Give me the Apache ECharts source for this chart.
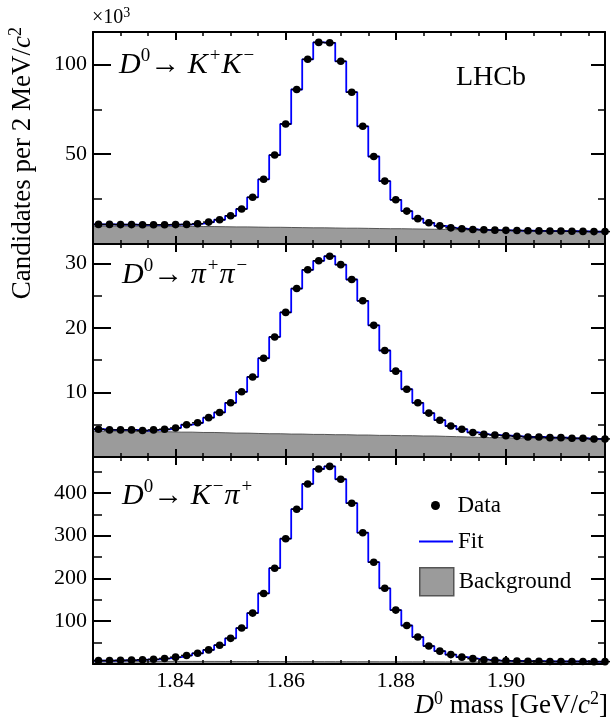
<!DOCTYPE html>
<html><head><meta charset="utf-8">
<script src="https://cdn.jsdelivr.net/npm/echarts@6.0.0/dist/echarts.min.js"></script>
<style>html,body{margin:0;padding:0;background:#fff;}#c{width:610px;height:720px;}</style>
</head><body><div id="c"></div>
<script>
// ---- binning (D0 mass, GeV/c^2), 2 MeV bins ----
const massCenters = [
  1.826,1.828,1.830,1.832,1.834,1.836,1.838,1.840,1.842,1.844,
  1.846,1.848,1.850,1.852,1.854,1.856,1.858,1.860,1.862,1.864,
  1.866,1.868,1.870,1.872,1.874,1.876,1.878,1.880,1.882,1.884,
  1.886,1.888,1.890,1.892,1.894,1.896,1.898,1.900,1.902,1.904,
  1.906,1.908,1.910,1.912,1.914,1.916,1.918];
const binHalfWidth = 0.001;
const xTickLabels = [1.84, 1.86, 1.88, 1.90];

// ---- D0 -> K+K- (x10^3 candidates) ----
const dataKK = [
  10.9,10.9,10.8,10.8,10.7,10.7,10.7,10.8,10.9,11.3,
  12.2,13.5,15.7,19.5,26.0,36.0,49.5,66.8,86.0,102.8,
  112.2,112.0,101.7,84.5,65.5,48.7,35.0,24.6,18.3,14.1,
  11.8,10.1,9.0,8.5,8.1,7.9,7.7,7.6,7.5,7.4,
  7.3,7.2,7.2,7.1,7.0,6.9,6.9];
// background read at bin edges
const bgKK = [
  10.0,10.0,10.0,10.0,9.9,9.9,9.9,9.8,9.8,9.8,
  9.7,9.7,9.6,9.5,9.5,9.4,9.3,9.3,9.2,9.1,
  9.0,9.0,8.9,8.8,8.8,8.7,8.6,8.5,8.5,8.4,
  8.3,8.2,8.1,8.0,7.9,7.8,7.7,7.6,7.5,7.4,
  7.3,7.2,7.1,7.0,6.9,6.9,6.8,6.7];
const yLabelsKK = [50, 100];

// ---- D0 -> pi+pi- (x10^3 candidates) ----
const dataPiPi = [
  4.3,4.2,4.2,4.2,4.1,4.2,4.3,4.5,5.0,5.3,
  6.1,6.9,8.4,10.1,12.4,15.3,18.6,22.4,26.1,29.0,
  30.4,31.1,29.8,27.5,24.2,20.4,16.5,13.3,10.5,8.4,
  6.8,5.7,4.8,4.3,3.8,3.5,3.4,3.3,3.2,3.1,
  3.1,3.0,3.0,2.9,2.9,2.8,2.8];
const bgPiPi = [
  4.0,4.0,4.0,4.0,3.95,3.95,3.9,3.9,3.85,3.85,
  3.8,3.8,3.75,3.7,3.7,3.65,3.6,3.6,3.55,3.55,
  3.5,3.5,3.45,3.45,3.4,3.4,3.35,3.35,3.3,3.3,
  3.25,3.25,3.2,3.15,3.1,3.05,3.0,3.0,2.95,2.9,
  2.9,2.85,2.85,2.8,2.8,2.75,2.75,2.7];
const yLabelsPiPi = [10, 20, 30];

// ---- D0 -> K-pi+ (x10^3 candidates) ----
const dataKPi = [
  8,8,8.5,9,10,11,13,16,20,25,
  33,44,60,84,119,165,224,293,362,421,
  456,462,432,376,307,238,177,126,90,63,
  42,30,22,16,12.5,10,8.5,7.5,7,6.5,
  6.5,6,6,6,6,5.5,5.5];
const bgKPi = [
  6.5,6.5,6.4,6.4,6.3,6.3,6.2,6.2,6.1,6.1,
  6.0,6.0,5.9,5.9,5.8,5.8,5.7,5.7,5.6,5.6,
  5.5,5.5,5.4,5.4,5.3,5.3,5.2,5.2,5.1,5.1,
  5.0,5.0,4.9,4.9,4.8,4.8,4.7,4.7,4.6,4.6,
  4.5,4.5,4.4,4.3,4.3,4.2,4.1,4.0];
const yLabelsKPi = [100, 200, 300, 400];

// Fit histograms: indistinguishable from the data at the resolution of the picture
const fitKK = dataKK.slice();
const fitPiPi = dataPiPi.slice();
const fitKPi = dataKPi.slice();

// ---------------- build chart ----------------
const FONT = 'Liberation Serif';
const xMin = 1.825, xMax = 1.918;
const massEdges = massCenters.map(c => +(c - binHalfWidth).toFixed(4))
  .concat([+(massCenters[massCenters.length - 1] + binHalfWidth).toFixed(4)]);

const panels = [
  {data: dataKK, fit: fitKK, bg: bgKK, labels: yLabelsKK, yMax: 118, minor: 25, major: 50, top: 32, height: 212},
  {data: dataPiPi, fit: fitPiPi, bg: bgPiPi, labels: yLabelsPiPi, yMax: 33, minor: 5, major: 10, top: 244, height: 213},
  {data: dataKPi, fit: fitKPi, bg: bgKPi, labels: yLabelsKPi, yMax: 484, minor: 50, major: 100, top: 457, height: 207}
];

const grids = [], xAxes = [], yAxes = [], series = [];
const black = '#000';
panels.forEach((p, i) => {
  for (let layer = 0; layer < 2; layer++) {
    const g = grids.length;
    const major = layer === 1;
    grids.push({left: 93, width: 512, top: p.top, height: p.height, show: false, containLabel: false});
    const xBase = {
      gridIndex: g, type: 'value', min: xMin, max: xMax, z: 5,
      splitLine: {show: false},
      axisLine: {show: !major, onZero: false, lineStyle: {color: black, width: 2}}
    };
    const xTick = major
      ? {show: true, inside: true, length: 8, customValues: xTickLabels, lineStyle: {color: black, width: 2}}
      : {show: true, inside: true, length: 4, lineStyle: {color: black, width: 1.5}};
    const xb = Object.assign({}, xBase, {position: 'bottom', axisTick: xTick,
      axisLabel: (major && i === 2)
        ? {show: true, customValues: xTickLabels, formatter: v => (+v).toFixed(2), margin: 6,
           fontFamily: FONT, fontSize: 22, color: black}
        : {show: false}});
    const xt = Object.assign({}, xBase, {position: 'top', axisTick: xTick, axisLabel: {show: false}});
    if (!major) { xb.interval = 0.005; xt.interval = 0.005; }
    xAxes.push(xb, xt);

    const yBase = {
      gridIndex: g, type: 'value', min: 0, max: p.yMax, z: 5,
      interval: major ? p.major : p.minor,
      splitLine: {show: false},
      axisLine: {show: !major, onZero: false, lineStyle: {color: black, width: 2}}
    };
    yAxes.push(Object.assign({}, yBase, {position: 'left',
      axisTick: {show: true, inside: true, length: major ? 18 : 9, lineStyle: {color: black, width: major ? 2 : 1.5}},
      axisLabel: major
        ? {show: true, margin: 6, fontFamily: FONT, fontSize: 22, color: black,
           formatter: v => p.labels.indexOf(+v) >= 0 ? String(v) : ''}
        : {show: false}}));
    yAxes.push(Object.assign({}, yBase, {position: 'right',
      axisTick: {show: true, inside: true, length: major ? 14 : 7, lineStyle: {color: black, width: major ? 2 : 1.5}},
      axisLabel: {show: false}}));
  }
  const ax = 4 * i;
  series.push({
    name: 'Background', type: 'line', xAxisIndex: ax, yAxisIndex: ax, z: 1,
    data: massEdges.map((m, j) => [m, p.bg[j]]),
    symbol: 'none', smooth: false,
    lineStyle: {color: '#555', width: 1},
    itemStyle: {color: '#9b9b9b'},
    areaStyle: {color: '#9b9b9b', opacity: 1},
    silent: true, animation: false
  });
  const fitPts = massCenters.map((c, j) => [c - binHalfWidth, p.fit[j]]);
  fitPts.push([massCenters[massCenters.length - 1] + binHalfWidth, p.fit[p.fit.length - 1]]);
  series.push({
    name: 'Fit', type: 'line', step: 'end', xAxisIndex: ax, yAxisIndex: ax, z: 3,
    data: fitPts, symbol: 'none',
    lineStyle: {color: '#0000ff', width: 1.8},
    itemStyle: {color: '#0000ff'},
    silent: true, animation: false
  });
  series.push({
    name: 'Data', type: 'custom', xAxisIndex: ax, yAxisIndex: ax, z: 4,
    data: massCenters.map((c, j) => [c, p.data[j]]),
    encode: {x: 0, y: 1},
    itemStyle: {color: black},
    clip: false, silent: true, animation: false,
    renderItem: (params, api) => {
      const x = api.value(0), y = api.value(1);
      const a = api.coord([x - binHalfWidth, y]);
      const b = api.coord([x + binHalfWidth, y]);
      const c = api.coord([x, y]);
      return {type: 'group', children: [
        {type: 'line', shape: {x1: a[0], y1: a[1], x2: b[0], y2: b[1]}, style: {stroke: black, lineWidth: 1.5}},
        {type: 'circle', shape: {cx: c[0], cy: c[1], r: 3.8}, style: {fill: black}}
      ]};
    }
  });
});

function supRich(base, sup) {
  return {
    n: {fontFamily: FONT, fontSize: base, fill: black, verticalAlign: 'middle', lineHeight: base * 1.2},
    i: {fontFamily: FONT, fontSize: base, fontStyle: 'italic', fill: black, verticalAlign: 'middle', lineHeight: base * 1.2},
    s: {fontFamily: FONT, fontSize: sup, fill: black, verticalAlign: 'top', lineHeight: sup},
    p: {fontFamily: FONT, fontSize: sup, fill: black, verticalAlign: 'top', lineHeight: sup, padding: [0, 1, 0, 2]}
  };
}
function txt(x, y, text, base, sup, align, rotation) {
  return {
    type: 'text', x: x, y: y, rotation: rotation || 0, z: 20, silent: true,
    style: {text: text, rich: supRich(base, sup), fontFamily: FONT, fontSize: base, fill: black,
      align: align, textAlign: align, verticalAlign: 'middle', textVerticalAlign: 'middle'}
  };
}

const graphic = [
  txt(92, 18, '{n|×10}{s|3}', 20, 14, 'left'),
  txt(119, 65, '{i|D}{s|0}{n|→ }{i|K}{p|+}{i|K}{p|−}', 30, 19, 'left'),
  txt(122, 275, '{i|D}{s|0}{n|→ }{i|π}{p|+}{i|π}{p|−}', 30, 19, 'left'),
  txt(122, 496, '{i|D}{s|0}{n|→ }{i|K}{p|−}{i|π}{p|+}', 30, 19, 'left'),
  txt(456, 78, '{n|LHCb}', 28, 18, 'left'),
  txt(23, 27, '{n|Candidates per 2 MeV/}{i|c}{s|2}', 27, 18, 'right', Math.PI / 2),
  txt(608, 706, '{i|D}{s|0}{n| mass [GeV/}{i|c}{s|2}{n|]}', 27, 18, 'right')
];

const legendText = {fontFamily: FONT, fontSize: 23, color: black};
const legend = [
  {data: [{name: 'Data', icon: 'circle'}], left: 431, top: 494, orient: 'vertical',
   itemWidth: 34, itemHeight: 9, textStyle: legendText, selectedMode: false, padding: 0},
  {data: [{name: 'Fit', icon: 'rect'}], left: 419, top: 530, orient: 'vertical',
   itemWidth: 34, itemHeight: 2, textStyle: legendText, selectedMode: false, padding: 0,
   itemStyle: {color: '#0000ff', borderWidth: 0}},
  {data: [{name: 'Background', icon: 'rect'}], left: 419, top: 567, orient: 'vertical',
   itemWidth: 34, itemHeight: 28, textStyle: legendText, selectedMode: false, padding: 0,
   itemStyle: {color: '#9b9b9b', borderColor: '#555', borderWidth: 1.5}}
];

const chart = echarts.init(document.getElementById('c'));
chart.setOption({
  animation: false,
  backgroundColor: '#fff',
  grid: grids, xAxis: xAxes, yAxis: yAxes, series: series,
  legend: legend, graphic: graphic
});
</script></body></html>
